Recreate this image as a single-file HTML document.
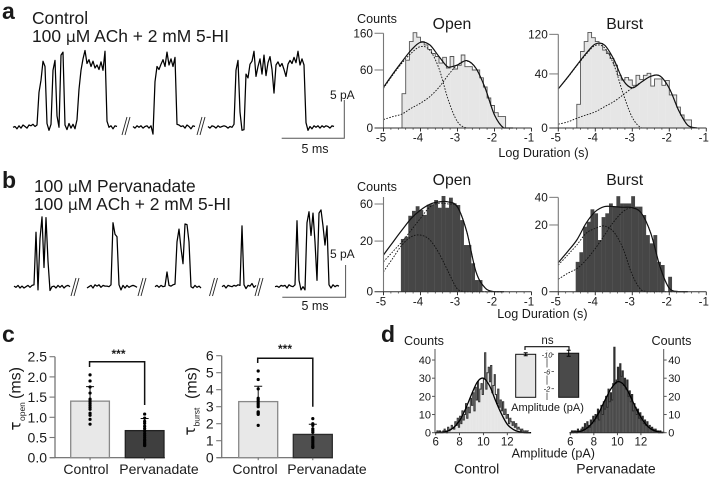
<!DOCTYPE html>
<html>
<head>
<meta charset="utf-8">
<title>Single-channel recordings figure</title>
<style>
html,body{margin:0;padding:0;background:#fff;}
svg{display:block;font-family:"Liberation Sans",Arial,sans-serif;fill:#111;filter:blur(.3px);}
text{fill:#1a1a1a;}
.sym{font-family:"DejaVu Sans","Liberation Sans",sans-serif;}
</style>
</head>
<body>
<svg id="fig" width="709" height="479" viewBox="0 0 709 479" xmlns="http://www.w3.org/2000/svg">
  <rect x="0" y="0" width="709" height="479" fill="#fff"/>

  <text x="2" y="19" font-size="23" font-weight="bold" fill="#000">a</text>
  <text x="32" y="24" font-size="17.4">Control</text>
  <text x="32" y="42" font-size="17.4">100 <tspan class="sym" font-size="15.5">μ</tspan>M ACh + 2 mM 5-HI</text>
  <text x="2" y="188" font-size="23" font-weight="bold" fill="#000">b</text>
  <text x="34" y="192" font-size="17.4">100 <tspan class="sym" font-size="15.5">μ</tspan>M Pervanadate</text>
  <text x="34" y="210" font-size="17.4">100 <tspan class="sym" font-size="15.5">μ</tspan>M ACh + 2 mM 5-HI</text>
  <text x="2" y="342" font-size="23" font-weight="bold" fill="#000">c</text>
  <text x="381" y="342" font-size="23" font-weight="bold" fill="#000">d</text>

  <g id="traces"></g>
  <g fill="none" stroke="#555" stroke-width="1">
    <path d="M281.7 138.3H344.3V100"/>
  </g>
  <text x="330" y="99" font-size="12">5 pA</text>
  <text x="315" y="153" font-size="12.5" text-anchor="middle">5 ms</text>
  <g fill="none" stroke="#555" stroke-width="1">
    <path d="M282.3 297.3H345.6V265"/>
  </g>
  <text x="330" y="258" font-size="12">5 pA</text>
  <text x="315" y="310" font-size="12.5" text-anchor="middle">5 ms</text>

  <text x="357" y="23" font-size="12.6">Counts</text>
  <text x="452" y="29" font-size="15.8" text-anchor="middle">Open</text>
  <text x="624.7" y="29" font-size="15.8" text-anchor="middle">Burst</text>
  <text x="543.5" y="157" font-size="12.6" text-anchor="middle">Log Duration (s)</text>
  <text x="357" y="191" font-size="12.6">Counts</text>
  <text x="452" y="185" font-size="15.8" text-anchor="middle">Open</text>
  <text x="624.7" y="185" font-size="15.8" text-anchor="middle">Burst</text>
  <text x="542.4" y="318" font-size="12.6" text-anchor="middle">Log Duration (s)</text>

  <g id="hists"></g>
  <g id="bars"></g>
  <g id="amps"></g>

  <text transform="translate(20.7,383) rotate(-90)" font-size="16" text-anchor="middle">(ms)</text>
  <text class="sym" transform="translate(20.7,426) rotate(-90)" font-size="15" text-anchor="middle">τ</text>
  <text transform="translate(25,421) rotate(-90)" font-size="8.5">open</text>
  <text transform="translate(196.7,383) rotate(-90)" font-size="16" text-anchor="middle">(ms)</text>
  <text class="sym" transform="translate(195,431) rotate(-90)" font-size="15" text-anchor="middle">τ</text>
  <text transform="translate(199.5,426.5) rotate(-90)" font-size="8.5">burst</text>

  <text x="86" y="474" font-size="14" text-anchor="middle">Control</text>
  <text x="159" y="474" font-size="14" text-anchor="middle">Pervanadate</text>
  <text x="255" y="474" font-size="14" text-anchor="middle">Control</text>
  <text x="327" y="474" font-size="14" text-anchor="middle">Pervanadate</text>
  <text x="118.5" y="358" font-size="12" font-weight="bold" text-anchor="middle">***</text>
  <text x="285" y="353" font-size="12" font-weight="bold" text-anchor="middle">***</text>

  <text x="404" y="345" font-size="12.6">Counts</text>
  <text x="651.5" y="345" font-size="12.6">Counts</text>
  <text x="547.5" y="344" font-size="11.5" text-anchor="middle">ns</text>
  <text x="547.5" y="411" font-size="11" text-anchor="middle">Amplitude (pA)</text>
  <text x="553.3" y="457.5" font-size="12.6" text-anchor="middle">Amplitude (pA)</text>
  <text x="476.7" y="473.5" font-size="14" text-anchor="middle">Control</text>
  <text x="616" y="473.5" font-size="14" text-anchor="middle">Pervanadate</text>
</svg>

<script>
// ---------- current traces (pA per sample; 0.16 ms sampling) ----------
const traceA1=[0,.1,-.2,.2,-.1,.3,.1,-.1,.3,.2,.4,.1,.3,4.6,6.2,8.7,8,.5,-.4,.4,7.5,8.8,1.5,0,9.5,9.9,.3,-.3,.5,-.1,.4,-.2,1,5,7.5,9,10.1,8.4,8.9,8,8.7,7.8,8.2,7.6,8.6,7.5,10,.8,0,.2,-.2,.2,.1];
const traceA2=[.1,-.1,.2,0,.2,-.1,.1,.2,-.1,.2,-.9,6,8,7.6,8.3,8.9,8,9.9,8.2,9,8,9.2,.4,.3,.1,.2,-.1,.3,.1,-.2,.2,.1];
const traceA3=[.1,-.1,.2,.1,-.1,.2,0,.1,.2,.1,-.1,.1,0,.4,7.5,8.8,2,-.4,-.3,7,6.5,8.3,8.7,10,6.7,8,9,7,9.5,6.8,8.5,9.3,7.6,4.5,8.2,8.6,8,8.4,7.6,6.7,8.3,8.8,8.4,9.2,8.5,10,8.2,9,8.2,.6,-.4,.1,-.2,.2,0,.2,-.1,.2,0,.2,.1,-.1,.2,.1];
const traceB1=[.1,-.1,.2,-.2,.1,-.2,0,.2,-.1,.2,.3,8.5,-.5,7.5,10.9,3,10.8,4,-.6,0,.1,-.2,.2,-.1,.2,-.2,.1,.2,0];
const traceB2=[-.2,0,.2,-.2,.3,.1,.3,-.1,.2,.1,.1,0,.3,10,8.2,7.8,.3,-.5,.2,-.2,.2,-.1,.1,.2,.1,-.1];
const traceB3=[0,.2,-.1,.2,0,.1,2.3,.2,.1,.3,.4,7,9,6,3.6,9.8,9.7,7,0,-.2,.2,-.1,.1,-.2];
const traceB4=[0,.2,-.2,.2,.1,0,.2,.1,.3,.2,9.5,.3,-.3,.2,.1,.5,-.1,.2];
const traceB5=[0,.1,-.1,.2,.1,.2,-.2,.3,.1,0,.3,10.3,1,-.5,0,-.5,10,11.7,8,11.5,7,1,11.5,12,9.5,6.5,9.5,.3,-.2,.3,0,.2,.1];
const traceAStarts=[0,9.6,15.6];
const traceBStarts=[.08,5.92,11.36,16.72,20.96];
const breakTimesA=[8.96,14.96];
const breakTimesB=[4.88,10.24,15.96,19.6];

// ---------- dwell-time histograms (counts per 0.1 log-unit bin) ----------
const binsOpenA=[21,82,133,162,147,133,123,110,99,91,75,89,64,91,62,70,95,67,67,60,60,45,30,16,9,4.2,2.3,2.3];
const binsBurstA=[7.7,80,102,125,111.5,102,98,83,76,66,54,38,31.5,35,31.5,25,38,32,38,41,24,33,33,25,31,15,15,6,2.3,.9,.9];
const binsOpenB=[21.7,23.6,45,51,57,52,46,59,59.5,65.6,55,71.5,55,69,61,58.6,40,17,17,6.3,1.06,1.06];
const binsBurstB=[4,7,19,22,30.5,27.6,12,25,27.6,35,32.5,41,35,35,35,41,32.5,32.5,26.4,14.4,10.5,14.4,4,3.2,0,1];

// fit curves: counts read every 0.25 log-units starting at -5
const fitOpenA=[29.5,52,78.5,108.5,131,123,91,66,71,81,63.5,28,3,0,0];
const compOpenA1=[28,50,75,100,118,108,63,14,.7,0,0,0,0,0,0];
const compOpenA2=[1.3,2.3,3.5,7,11,17.5,29.5,50,71,80,63,28,3,0,0];
const fitBurstA=[21,35,54,76,96.5,94,64.5,31.5,22,29,36.5,37,21.5,4.4,.1,0];
const compBurstA1=[21,34.5,53,74,93,88,55,16.5,1.5,0,0,0,0,0,0,0];
const compBurstA2=[.2,.5,1.3,2.3,3.6,6.2,9.5,15,22,29,36.5,37,21.5,4.4,.1,0];
const fitOpenB=[10.5,19,29.7,42,52,59.6,63,63,56,28,3.1,.1,0,0];
const compOpenB1=[3.1,8.7,17,23.6,25,21,11.5,3.1,.05,0,0,0,0,0];
const compOpenB2=[7,12.5,19.5,29.7,42,56,61,60,56,28,3.1,.1,0,0];
const fitBurstB=[3.8,7.2,12,21,28.8,32.5,32.5,32,31.7,27.6,15.3,2.8,.05,0,0];
const compBurstB1=[3.2,6,9.8,15.3,18,19.4,16,8.4,1.25,.01,0,0,0,0,0];
const compBurstB2=[.7,1.5,2.4,4.5,8.4,14.4,22,28.8,31.7,27.6,15.3,2.8,.05,0,0];

const logTicks=[-5,-4,-3,-2,-1];
const countTicksOpenA=[0,60,160];
const countTicksBurstA=[0,40,120];
const countTicksOpenB=[0,20,60];
const countTicksBurstB=[0,20,40];

// ---------- tau bar charts ----------
const barCategories=['Control','Pervanadate'];
const tauOpenMeans=[1.40,0.67];
const tauOpenErrors=[0.36,0.30];
const tauOpenControlPoints=[2.05,1.9,1.75,1.6,1.45,1.4,1.35,1.3,1.25,1.2,1.1,1.05,.95,.83];
const tauOpenPervPoints=[1.08,.98,.9,.85,.78,.72,.66,.6,.55,.5,.45,.42,.38,.35,.32,.3];
const tauOpenTicks=['0.0','0.5','1.0','1.5','2.0','2.5'];
const tauBurstMeans=[3.3,1.37];
const tauBurstErrors=[0.9,0.6];
const tauBurstControlPoints=[5.1,4.6,4.05,3.5,3.4,3.3,3.2,3.1,3,2.7,2.65,2.6,2.55,1.9];
const tauBurstPervPoints=[2.3,2,1.9,1.7,1.6,1.5,1.2,1.1,1,.9,.8,.7,.65,.6];
const tauBurstTicks=['0','1','2','3','4','5','6'];

// ---------- amplitude histograms (counts per 0.1 pA bin, starting at 6 pA) ----------
const ampControl=[0,1,0,1,0,0,1,2,1,0,3,1,2,4,3,2,6,4,8,3,9,5,12,7,10,16,8,14,11,19,15,22,12,25,18,28,17,24,27,21,30,44,24,33,36,28,37,22,26,32,21,16,24,14,18,12,17,10,13,8,10,5,8,6,4,6,3,5,2,3,2,1,2,1,0,1,0,1];
const ampPervanadate=[0,1,0,1,1,0,2,1,1,2,3,2,5,3,6,4,3,7,5,9,6,10,8,13,7,12,15,10,17,13,20,14,24,17,22,18,27,47,27,29,36,28,38,31,34,26,30,24,29,20,23,17,21,12,16,14,10,13,8,11,7,9,5,7,4,6,3,4,2,3,2,1,2,1,1,0,1,0,0];
const ampFitControl=[.05,.25,.9,2.8,6.7,13,21,28,30,26,18,10.5,4.6,1.8,.5,.1,0];
const ampFitPervanadate=[.1,.4,1,2.9,6.5,12,18.6,24.6,28,26.7,21.6,14.5,8.5,4,1.5,.5,.1];
const ampCountTicks=[0,10,20,30,40];
const ampTicks=[6,8,10,12];
const insetMeans=[10,10.25];
const insetErrors=[.35,.7];
const insetTicks=[10,6,2];

// ---------- helpers ----------
const NS='http://www.w3.org/2000/svg';
function mk(parent,tag,props,txt){
  const n=document.createElementNS(NS,tag);
  for(const k in props) n.setAttribute(k,props[k]);
  if(txt!==undefined) n.textContent=txt;
  parent.appendChild(n);
  return n;
}
function smooth(pts){
  let d='M'+pts[0][0].toFixed(1)+' '+pts[0][1].toFixed(1);
  for(let i=0;i<pts.length-1;i++){
    const p0=pts[Math.max(0,i-1)],p1=pts[i],p2=pts[i+1],p3=pts[Math.min(pts.length-1,i+2)];
    const c1x=p1[0]+(p2[0]-p0[0])/6,c2x=p2[0]-(p3[0]-p1[0])/6;
    const lim=Math.max(p1[1],p2[1]);
    const c1y=Math.min(p1[1]+(p2[1]-p0[1])/6,lim),c2y=Math.min(p2[1]-(p3[1]-p1[1])/6,lim);
    d+='C'+c1x.toFixed(1)+' '+c1y.toFixed(1)+' '+c2x.toFixed(1)+' '+c2y.toFixed(1)+' '+p2[0].toFixed(1)+' '+p2[1].toFixed(1);
  }
  return d;
}

// ---------- traces ----------
const traceRoot=document.getElementById('traces');
function drawTraces(segments,starts,breaks,x0,y0,pxPerMs,pxPerPa,name,slashTop,slashBot){
  const dt=0.16;
  const X=t=>x0+t*pxPerMs, Y=v=>y0-v*pxPerPa;
  segments.forEach((seg,i)=>{
    const d=seg.map((v,j)=>(j?'L':'M')+X(starts[i]+j*dt).toFixed(1)+' '+Y(v).toFixed(1)).join('');
    const p=mk(traceRoot,'path',{d:d,fill:'none',stroke:'#000','stroke-width':'1.25','stroke-linejoin':'round'});
    
    
  });
  breaks.forEach(t=>{
    [0,3].forEach(o=>{
      const s=mk(traceRoot,'line',{x1:X(t)+o-3,y1:slashBot,x2:X(t)+o+2,y2:slashTop,stroke:'#222','stroke-width':'.9'});
      
      
    });
  });
}
drawTraces([traceA1,traceA2,traceA3],traceAStarts,breakTimesA,13,127.3,12.5,7.6,'trace-control',117,135);
drawTraces([traceB1,traceB2,traceB3,traceB4,traceB5],traceBStarts,breakTimesB,13,286.7,12.5,6.4,'trace-pervanadate',278,296);

// ---------- duration histograms ----------
const histRoot=document.getElementById('hists');
function drawHist(name,bins,fit,c1,c2,ticks,x0,y0,k,topY,binStart,dark){
  const X=v=>x0+(v+5)*37, Y=c=>y0-k*Math.sqrt(Math.max(c,0));
  const w=X(binStart+.1)-X(binStart);
  let outline='M'+X(binStart).toFixed(1)+' '+y0;
  bins.forEach((c,i)=>{
    const bx=X(binStart+i*.1);
    const r=mk(histRoot,'rect',{x:bx.toFixed(2),y:Y(c).toFixed(2),width:(w+.15).toFixed(2),height:(y0-Y(c)).toFixed(2),fill:dark?'#464646':'#e6e6e6'});
    
    
    outline+='L'+bx.toFixed(1)+' '+Y(c).toFixed(1)+'L'+(bx+w).toFixed(1)+' '+Y(c).toFixed(1);
  });
  outline+='L'+X(binStart+bins.length*.1).toFixed(1)+' '+y0;
  if(!dark){
    const o=mk(histRoot,'path',{d:outline,fill:'none',stroke:'#555','stroke-width':'.9'});
    
    
  }
  const curve=arr=>smooth(arr.map((c,i)=>[X(-5+i*.25),Y(c)]));
  const a=mk(histRoot,'path',{d:curve(c1),fill:'none',stroke:'#111','stroke-width':'.9','stroke-dasharray':'1.6 1.4'});
  
  
  const b=mk(histRoot,'path',{d:curve(c2),fill:'none',stroke:'#111','stroke-width':'.9','stroke-dasharray':'1.6 1.4'});
  
  
  const f=mk(histRoot,'path',{d:curve(fit),fill:'none',stroke:'#111','stroke-width':'1.2'});
  
  
  // axes
  const ya=mk(histRoot,'line',{x1:x0,y1:topY,x2:x0,y2:y0,stroke:'#777','stroke-width':'1.1'});
  
  
  const xa=mk(histRoot,'line',{x1:x0-9,y1:y0,x2:X(-1),y2:y0,stroke:'#333','stroke-width':'1'});
  
  
  logTicks.forEach(v=>{
    const t=mk(histRoot,'line',{x1:X(v),y1:y0,x2:X(v),y2:y0+3.5,stroke:'#333','stroke-width':'1'});
    
    
    const l=mk(histRoot,'text',{x:X(v)-2.5,y:y0+13.7,'font-size':'11.5','text-anchor':'middle'},String(v));
    
    
    if(v<-1){
      for(let m=1;m<5;m++){
        const mt=mk(histRoot,'line',{x1:X(v+m*.2),y1:y0,x2:X(v+m*.2),y2:y0+1.8,stroke:'#333','stroke-width':'.7'});
        
        
      }
    }
  });
  ticks.forEach(c=>{
    if(c>0){
      const t=mk(histRoot,'line',{x1:x0-9,y1:Y(c),x2:x0,y2:Y(c),stroke:'#777','stroke-width':'1'});
      
      
    }
    const l=mk(histRoot,'text',{x:x0-10.5,y:Y(c)+4,'font-size':'11.8','text-anchor':'end'},String(c));
    
    
  });
}
drawHist('open-hist-control',binsOpenA,fitOpenA,compOpenA1,compOpenA2,countTicksOpenA,383.5,128,7.49,33.3,-4.5,false);
drawHist('burst-hist-control',binsBurstA,fitBurstA,compBurstA1,compBurstA2,countTicksBurstA,558.3,128,8.55,34.3,-4.5,false);
drawHist('open-hist-pervanadate',binsOpenB,fitOpenB,compOpenB1,compOpenB2,countTicksOpenB,383.5,291.7,11.32,197,-4.53,true);
drawHist('burst-hist-pervanadate',binsBurstB,fitBurstB,compBurstB1,compBurstB2,countTicksBurstB,558.3,291.7,14.92,197.5,-4.53,true);

// ---------- bar charts ----------
const barRoot=document.getElementById('bars');
function drawBars(name,means,errs,ptsC,ptsP,ticks,axisX,y0,pxPerUnit,barX,barW,fills,axisEnd,br){
  const Y=v=>y0-v*pxPerUnit;
  const ya=mk(barRoot,'line',{x1:axisX,y1:Y(Number(ticks[ticks.length-1])),x2:axisX,y2:y0,stroke:'#777','stroke-width':'1.3'});
  
  
  const xa=mk(barRoot,'line',{x1:axisX-5,y1:y0,x2:axisEnd,y2:y0,stroke:'#666','stroke-width':'1.2'});
  
  
  ticks.forEach(t=>{
    const v=Number(t);
    const tk=mk(barRoot,'line',{x1:axisX-5.5,y1:Y(v),x2:axisX,y2:Y(v),stroke:'#777','stroke-width':'1.1'});
    
    
    const l=mk(barRoot,'text',{x:axisX-8,y:Y(v)+5,'font-size':'14','text-anchor':'end'},t);
    
    
  });
  means.forEach((m,i)=>{
    const cx=barX[i]+barW/2;
    const r=mk(barRoot,'rect',{x:barX[i],y:Y(m),width:barW,height:y0-Y(m),fill:fills[i][0],stroke:fills[i][1],'stroke-width':'1.3'});
    
    
    const tk=mk(barRoot,'line',{x1:cx,y1:y0,x2:cx,y2:y0+2.5,stroke:'#666','stroke-width':'1'});
    
    
    const e=mk(barRoot,'path',{d:'M'+(cx-4)+' '+Y(m+errs[i])+'H'+(cx+4)+'M'+cx+' '+Y(m+errs[i])+'V'+Y(m),fill:'none',stroke:'#111','stroke-width':'1'});
    
    
    (i?ptsP:ptsC).forEach(p=>{
      const c=mk(barRoot,'circle',{cx:cx,cy:Y(p),r:'1.6',fill:'#000'});
      
      
    });
  });
  const cx0=barX[0]+barW/2-.5,cx1=barX[1]+barW/2;
  const b=mk(barRoot,'path',{d:'M'+cx0+' '+br[1]+'V'+br[0]+'H'+cx1+'V'+br[2],fill:'none',stroke:'#111','stroke-width':'1.5'});
  
  
}
drawBars('tau-open',tauOpenMeans,tauOpenErrors,tauOpenControlPoints,tauOpenPervPoints,tauOpenTicks,55,457.7,40.4,[70.7,125.3],38.7,[['#e8e8e8','#888'],['#3f3f3f','#222']],165,[361.7,367,405]);
drawBars('tau-burst',tauBurstMeans,tauBurstErrors,tauBurstControlPoints,tauBurstPervPoints,tauBurstTicks,221.7,457.7,17,[238.7,293.3],39,[['#e8e8e8','#888'],['#4f4f4f','#2a2a2a']],333,[358.3,363,406.7]);

// ---------- amplitude histograms ----------
const ampRoot=document.getElementById('amps');
function drawAmp(name,bins,fit,x0,pxPerPa,fill,stroke,axisX,right){
  const y0=432.7,kc=1.817;
  const X=v=>x0+(v-6)*pxPerPa, Y=c=>y0-c*kc;
  const w=pxPerPa*.1;
  let d='M'+X(6).toFixed(1)+' '+y0;
  bins.forEach((c,i)=>{
    const bx=X(6+i*.1);
    const r=mk(ampRoot,'rect',{x:bx.toFixed(2),y:Y(c).toFixed(2),width:(w+.1).toFixed(2),height:(y0-Y(c)).toFixed(2),fill:fill});
    
    
    d+='L'+bx.toFixed(1)+' '+Y(c).toFixed(1)+'L'+(bx+w).toFixed(1)+' '+Y(c).toFixed(1);
  });
  const o=mk(ampRoot,'path',{d:d,fill:'none',stroke:stroke,'stroke-width':'1'});
  
  
  const f=mk(ampRoot,'path',{d:smooth(fit.map((c,i)=>[X(6+i*.5),Y(c)])),fill:'none',stroke:'#000','stroke-width':'1.3'});
  
  
  const ya=mk(ampRoot,'line',{x1:axisX,y1:349,x2:axisX,y2:y0,stroke:'#555','stroke-width':'1'});
  
  
  const xa=mk(ampRoot,'line',{x1:X(6)-1,y1:y0,x2:X(13.9),y2:y0,stroke:'#333','stroke-width':'1'});
  
  
  ampCountTicks.forEach(c=>{
    const dir=right?1:-1;
    const t=mk(ampRoot,'line',{x1:axisX,y1:Y(c),x2:axisX+dir*3,y2:Y(c),stroke:'#555','stroke-width':'1'});
    
    
    const l=mk(ampRoot,'text',{x:axisX+dir*(right?4.5:4),y:Y(c)+4,'font-size':'11','text-anchor':right?'start':'end'},String(c));
    
    
  });
  ampTicks.forEach(v=>{
    const t=mk(ampRoot,'line',{x1:X(v),y1:y0,x2:X(v),y2:y0+2.5,stroke:'#333','stroke-width':'.9'});
    
    
    const l=mk(ampRoot,'text',{x:X(v),y:y0+13,'font-size':'11.5','text-anchor':'middle'},String(v));
    
    
  });
}
drawAmp('amp-control',ampControl,ampFitControl,435.7,11.93,'#e6e6e6','#333',435,false);
drawAmp('amp-pervanadate',ampPervanadate,ampFitPervanadate,570.3,11.77,'#4a4a4a','#2a2a2a',663.7,true);

// inset bars
(function(){
  const base=397.3,k=4.3,cx=547;
  const Y=v=>base-v*k;
  const barXs=[515.7,558.7],fills=['#e6e6e6','#4a4a4a'],w=20;
  const ax=mk(ampRoot,'line',{x1:cx,y1:350,x2:cx,y2:400,stroke:'#444','stroke-width':'.8'});
  
  
  insetTicks.forEach(v=>{
    const bg=mk(ampRoot,'rect',{x:cx-5,y:Y(v)-4,width:10,height:8,fill:'#fff'});
    
    
    const l=mk(ampRoot,'text',{x:cx,y:Y(v)+3,'font-size':'7.5','font-style':'italic','text-anchor':'middle'},'-'+v);
    
    
    const t=mk(ampRoot,'line',{x1:cx+4.5,y1:Y(v),x2:cx+7,y2:Y(v),stroke:'#444','stroke-width':'.8'});
    
    
  });
  insetMeans.forEach((m,i)=>{
    const r=mk(ampRoot,'rect',{x:barXs[i],y:Y(m),width:w,height:base-Y(m),fill:fills[i],stroke:'#111','stroke-width':'1'});
    
    
    const bcx=barXs[i]+w/2;
    const e=mk(ampRoot,'path',{d:'M'+(bcx-2)+' '+Y(m+insetErrors[i])+'H'+(bcx+2)+'M'+bcx+' '+Y(m+insetErrors[i])+'V'+Y(m-insetErrors[i])+'M'+(bcx-2)+' '+Y(m-insetErrors[i])+'H'+(bcx+2),fill:'none',stroke:'#000','stroke-width':'1'});
    
    
  });
  const b=mk(ampRoot,'path',{d:'M525 350V346.7H569V350',fill:'none',stroke:'#111','stroke-width':'1.2'});
  
  
})();
</script>
</body>
</html>
